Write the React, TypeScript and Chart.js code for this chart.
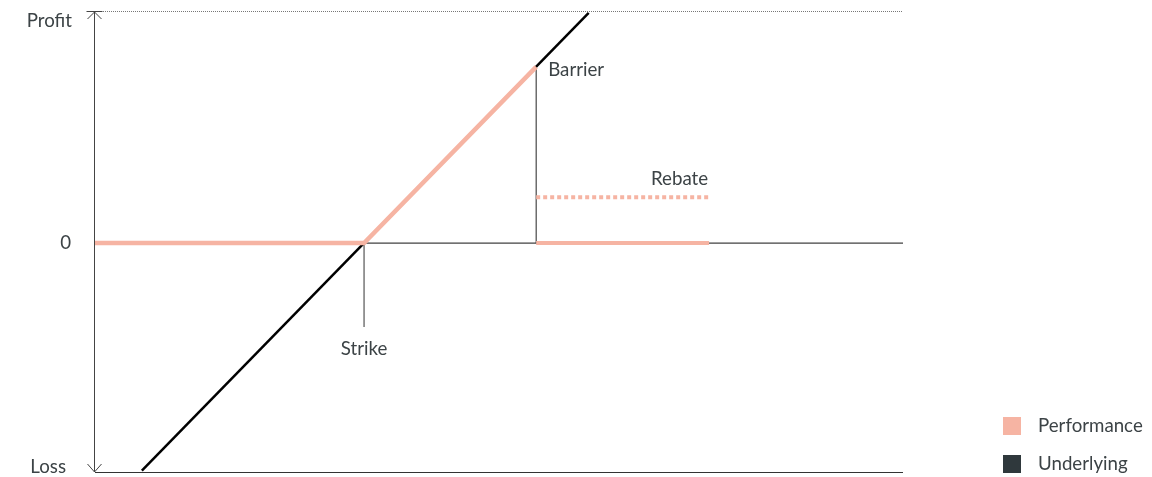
import React, { useEffect, useRef } from "react";
import { Chart, registerables } from "chart.js";

Chart.register(...registerables);

// Data (x: underlying level, y: payoff)
const strike = 33.3;
const barrier = 54.6;
const barrierPayoff = 38.5;
const rebateLevel = 10;
const knockEnd = 76;

const performanceX = [0, strike, barrier];
const performanceY = [0, 0, barrierPayoff];
const rebateX = [barrier, knockEnd];
const rebateY = [rebateLevel, rebateLevel];
const knockedX = [barrier, knockEnd];
const knockedY = [0, 0];
const underlyingX = [5.8, 61.1];
const underlyingY = [-49.7, 50.3];
const strikeLineY = [0, -18.3];
const yLabels = ["Profit", "0", "Loss"];
const legendLabels = ["Performance", "Underlying"];

const X_MIN = 0;
const X_MAX = 100;
const Y_MIN = -50;
const Y_MAX = 50.7;

const PINK = "#f6b4a3";
const DARK = "#2f383c";
const TEXT = "#3c4346";
const FONT = "18.7px Lato, 'Noto Sans', sans-serif";

const pts = (xs: number[], ys: number[]) => xs.map((x, i) => ({ x, y: ys[i] }));

export default function App() {
  const ref = useRef<HTMLCanvasElement | null>(null);

  useEffect(() => {
    if (!ref.current) return;

    const overlay = {
      id: "overlay",
      beforeDatasetsDraw(chart: any) {
        const ctx = chart.ctx;
        const xs = chart.scales.x;
        const ys = chart.scales.y;
        const x0 = xs.getPixelForValue(X_MIN);
        const x1 = xs.getPixelForValue(X_MAX);
        const yTop = ys.getPixelForValue(Y_MAX);
        const yBot = ys.getPixelForValue(Y_MIN);
        ctx.save();
        // top dotted line
        ctx.strokeStyle = "#777";
        ctx.lineWidth = 1;
        ctx.setLineDash([1, 1]);
        ctx.beginPath();
        ctx.moveTo(x0, Math.round(yTop) + 0.5);
        ctx.lineTo(x1, Math.round(yTop) + 0.5);
        ctx.stroke();
        ctx.setLineDash([]);
        // bottom solid line
        ctx.strokeStyle = "#333";
        ctx.beginPath();
        ctx.moveTo(x0, Math.round(yBot) + 0.5);
        ctx.lineTo(x1, Math.round(yBot) + 0.5);
        ctx.stroke();
        // y axis with arrows
        const ax = Math.round(x0) - 0.5;
        ctx.strokeStyle = "#444";
        ctx.beginPath();
        ctx.moveTo(ax, yTop);
        ctx.lineTo(ax, yBot);
        ctx.stroke();
        ctx.beginPath();
        ctx.moveTo(ax - 8, Math.round(yTop) + 0.5);
        ctx.lineTo(ax + 8, Math.round(yTop) + 0.5);
        ctx.moveTo(ax - 7, yTop + 8);
        ctx.lineTo(ax, yTop + 1);
        ctx.lineTo(ax + 7, yTop + 8);
        ctx.moveTo(ax - 7, yBot - 8);
        ctx.lineTo(ax, yBot);
        ctx.lineTo(ax + 7, yBot - 8);
        ctx.stroke();
        ctx.restore();
      },
      afterDatasetsDraw(chart: any) {
        const ctx = chart.ctx;
        const xs = chart.scales.x;
        const ys = chart.scales.y;
        ctx.save();
        ctx.font = FONT;
        ctx.fillStyle = TEXT;
        ctx.textBaseline = "middle";
        // y labels
        ctx.textAlign = "right";
        ctx.fillText(yLabels[0], 72, ys.getPixelForValue(Y_MAX) + 10);
        ctx.fillText(yLabels[1], 71, ys.getPixelForValue(0));
        ctx.fillText(yLabels[2], 66, ys.getPixelForValue(Y_MIN) - 5);
        // annotations
        ctx.textAlign = "center";
        ctx.fillText("Strike", xs.getPixelForValue(strike), ys.getPixelForValue(strikeLineY[1]) + 22);
        ctx.textAlign = "left";
        ctx.fillText("Barrier", xs.getPixelForValue(barrier) + 12, ys.getPixelForValue(barrierPayoff) + 3);
        ctx.textAlign = "right";
        ctx.fillText("Rebate", xs.getPixelForValue(knockEnd) - 1, ys.getPixelForValue(rebateLevel) - 18);
        // legend
        const colors = [PINK, DARK];
        const ly = [426, 464];
        ctx.textAlign = "left";
        legendLabels.forEach((l, i) => {
          ctx.fillStyle = colors[i];
          ctx.fillRect(1003, ly[i] - 9, 18, 18);
          ctx.fillStyle = TEXT;
          ctx.fillText(l, 1038, ly[i]);
        });
        ctx.restore();
      },
    };

    const chart = new Chart(ref.current, {
      type: "line",
      data: {
        datasets: [
          {
            label: "Performance",
            data: pts(performanceX, performanceY),
            borderColor: PINK,
            borderWidth: 4.5,
            borderCapStyle: "butt",
            pointRadius: 0,
            tension: 0,
            order: 1,
            clip: false,
          },
          {
            label: "Knocked",
            data: pts(knockedX, knockedY),
            borderColor: PINK,
            borderWidth: 4,
            borderCapStyle: "butt",
            pointRadius: 0,
            order: 1,
            clip: false,
          },
          {
            label: "Rebate",
            data: pts(rebateX, rebateY),
            borderColor: PINK,
            borderWidth: 4,
            borderDash: [4, 3],
            borderCapStyle: "butt",
            pointRadius: 0,
            order: 1,
            clip: false,
          },
          {
            label: "Underlying",
            data: pts(underlyingX, underlyingY),
            borderColor: "#000",
            borderWidth: 2.5,
            pointRadius: 0,
            order: 3,
            clip: false,
          },
          {
            label: "Barrier line",
            data: pts([barrier, barrier], [0, barrierPayoff]),
            borderColor: "#222",
            borderWidth: 1,
            pointRadius: 0,
            order: 4,
            clip: false,
          },
          {
            label: "Strike line",
            data: pts([strike, strike], strikeLineY),
            borderColor: "#777",
            borderWidth: 1.5,
            pointRadius: 0,
            order: 4,
            clip: false,
          },
          {
            label: "Zero",
            data: pts([X_MIN, X_MAX], [0, 0]),
            borderColor: "#111",
            borderWidth: 1,
            pointRadius: 0,
            order: 5,
            clip: false,
          },
        ],
      },
      options: {
        responsive: true,
        maintainAspectRatio: false,
        animation: false,
        layout: { padding: { left: 95, right: 249, top: 11, bottom: 5 } },
        plugins: { legend: { display: false }, tooltip: { enabled: false } },
        scales: {
          x: { type: "linear", min: X_MIN, max: X_MAX, display: false },
          y: { type: "linear", min: Y_MIN, max: Y_MAX, display: false },
        },
      },
      plugins: [overlay],
    } as any);

    return () => chart.destroy();
  }, []);

  return (
    <div style={{ position: "fixed", left: 0, top: 0, width: 1152, height: 477, background: "#fff" }}>
      <canvas ref={ref} />
    </div>
  );
}
